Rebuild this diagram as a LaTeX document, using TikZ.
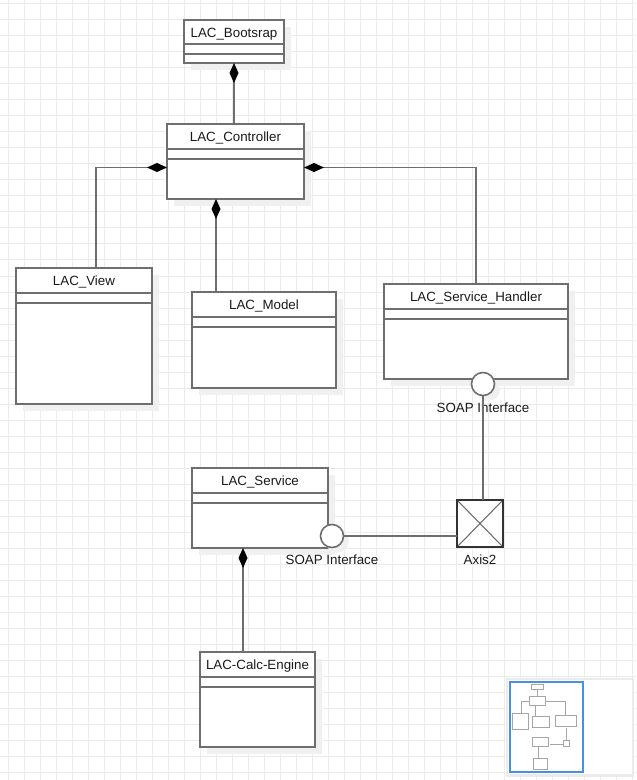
\documentclass[tikz,border=0pt]{standalone}
\usepackage{fontspec}
\setmainfont{Liberation Sans}
\usetikzlibrary{arrows.meta,calc,shadows,positioning}
\definecolor{gridgray}{HTML}{EBEBEB}
\definecolor{linegray}{HTML}{6E6E6E}
\definecolor{shadegray}{HTML}{F0F0F0}
\definecolor{textdark}{HTML}{1A1A1A}
\definecolor{miniblue}{HTML}{4A90E2}
\newlength{\px}
\setlength{\px}{0.75pt}
\tikzset{
  gridline/.style={draw=gridgray, line width=0.75pt},
  classbox/.style={draw=linegray, line width=1.4pt, fill=white, anchor=north west,
    inner sep=0pt, outer sep=0pt,
    drop shadow={shadow xshift=5pt, shadow yshift=-5pt, fill=shadegray, opacity=1}},
  classname/.style={text=textdark, font=\fontsize{10}{12}\selectfont, inner sep=0pt, anchor=base},
  sepline/.style={draw=linegray, line width=1.4pt},
  link/.style={draw=linegray, line width=1.4pt},
  comp/.style={link, {Diamond[length=15pt,width=6.75pt,color=black,fill=black]}-},
  iface/.style={circle, draw=linegray, line width=1.2pt, fill=white, minimum size=23\px,
    inner sep=0pt, outer sep=0pt,
    drop shadow={shadow xshift=4pt, shadow yshift=-4pt, fill=shadegray, opacity=1}},
  caption/.style={text=textdark, font=\fontsize{10}{12}\selectfont, inner sep=0pt, anchor=base},
  axisbox/.style={draw=black!80, line width=1.2pt, fill=white, minimum width=46\px,
    minimum height=47\px, inner sep=0pt, outer sep=0pt,
    path picture={\draw[linegray, line width=0.8pt]
      (path picture bounding box.north west) -- (path picture bounding box.south east)
      (path picture bounding box.south west) -- (path picture bounding box.north east);}},
  minibox/.style={draw=black!35, line width=0.4pt}
}
\begin{document}
\begin{tikzpicture}[x=0.75pt, y=-0.75pt]
\useasboundingbox (0,0) rectangle (636,780);
\fill[white] (0,0) rectangle (636,780);
%grid
\foreach \gx in {8,24,...,632} \draw[gridline] (\gx,0) -- (\gx,780);
\foreach \gy in {4,20,...,780} \draw[gridline] (0,\gy) -- (636,\gy);

%Bootsrap
\node[classbox, minimum width=100\px, minimum height=43\px] (boot) at (184,20) {};
\node[classname] (boot-name) at ($(boot.north)+(0,18)$) {LAC\_Bootsrap};
\draw[sepline] ($(boot.north west)+(0,24)$) -- ($(boot.north east)+(0,24)$);
\draw[sepline] ($(boot.north west)+(0,34)$) -- ($(boot.north east)+(0,34)$);
%Controller
\node[classbox, minimum width=137\px, minimum height=75\px] (ctrl) at (167,124) {};
\node[classname] (ctrl-name) at ($(ctrl.north)+(0,17.5)$) {LAC\_Controller};
\draw[sepline] ($(ctrl.north west)+(0,25)$) -- ($(ctrl.north east)+(0,25)$);
\draw[sepline] ($(ctrl.north west)+(0,35)$) -- ($(ctrl.north east)+(0,35)$);
%View
\node[classbox, minimum width=136\px, minimum height=136\px] (view) at (16,268) {};
\node[classname] (view-name) at ($(view.north)+(0,17.5)$) {LAC\_View};
\draw[sepline] ($(view.north west)+(0,25)$) -- ($(view.north east)+(0,25)$);
\draw[sepline] ($(view.north west)+(0,35)$) -- ($(view.north east)+(0,35)$);
%Model
\node[classbox, minimum width=144\px, minimum height=96\px] (model) at (192,292) {};
\node[classname] (model-name) at ($(model.north)+(0,17.5)$) {LAC\_Model};
\draw[sepline] ($(model.north west)+(0,25)$) -- ($(model.north east)+(0,25)$);
\draw[sepline] ($(model.north west)+(0,35)$) -- ($(model.north east)+(0,35)$);
%Service handler
\node[classbox, minimum width=184\px, minimum height=95\px] (handler) at (384,284) {};
\node[classname] (handler-name) at ($(handler.north)+(0,17.5)$) {LAC\_Service\_Handler};
\draw[sepline] ($(handler.north west)+(0,25)$) -- ($(handler.north east)+(0,25)$);
\draw[sepline] ($(handler.north west)+(0,35)$) -- ($(handler.north east)+(0,35)$);
%Service
\node[classbox, minimum width=136\px, minimum height=80\px] (svc) at (192,468) {};
\node[classname] (svc-name) at ($(svc.north)+(0,17.5)$) {LAC\_Service};
\draw[sepline] ($(svc.north west)+(0,25)$) -- ($(svc.north east)+(0,25)$);
\draw[sepline] ($(svc.north west)+(0,35)$) -- ($(svc.north east)+(0,35)$);
%Calc engine
\node[classbox, minimum width=115\px, minimum height=95\px] (calc) at (200,652) {};
\node[classname] (calc-name) at ($(calc.north)+(0,17.5)$) {LAC-Calc-Engine};
\draw[sepline] ($(calc.north west)+(0,25)$) -- ($(calc.north east)+(0,25)$);
\draw[sepline] ($(calc.north west)+(0,35)$) -- ($(calc.north east)+(0,35)$);

%Axis2 and the two interfaces
\node[axisbox] (axis) at (480,523.5) {};
\node[caption] (axis-name) at ($(axis.south)+(0,17)$) {Axis2};
\node[iface] (ifh) at (483,384) {};
\node[caption] (ifh-name) at ($(ifh.south)+(0,16.5)$) {SOAP Interface};
\node[iface] (ifs) at (332,536) {};
\node[caption] (ifs-name) at ($(ifs.south)+(0,16.5)$) {SOAP Interface};

%composition links
\coordinate (ctrl-foot) at ($(ctrl.south)+(-19.5,0)$);
\coordinate (svc-foot) at ($(svc.south)+(-17,0)$);
\draw[comp] (boot.south) -- (boot.south |- ctrl.north);
\draw[comp] ($(ctrl.west)+(0,6)$) -| ($(view.north west)+(80,0)$);
\draw[comp] ($(ctrl.east)+(0,6)$) -| (handler.north);
\draw[comp] (ctrl-foot) -- (ctrl-foot |- model.north);
\draw[comp] (svc-foot) -- (svc-foot |- calc.north);
%interface links
\draw[link] (ifh.south) -- (ifh.south |- axis.north);
\draw[link] (ifs.east) -- (ifs.east -| axis.west);

%outline view
\fill[black!8] (506,678) rectangle (634,777);
\fill[white] (508,680) rectangle (632,774);
\begin{scope}[shift={(510,682)}, scale=0.117]
\foreach \bx/\by/\bw/\bh in {184/20/100/43, 167/124/137/75, 16/268/136/136, 192/292/144/96,
    384/284/184/95, 192/468/136/80, 200/652/115/95, 457/500/46/47}
  \draw[minibox] (\bx,\by) rectangle ++(\bw,\bh);
\draw[minibox] (232,63) -- (232,124) (167,167) -| (96,268) (304,167) -| (476,284)
  (216,199) -- (216,292) (483,395) -- (483,500) (343,535) -- (457,535) (243,548) -- (243,652);
\end{scope}
\draw[miniblue, line width=1.2pt] (510,682) rectangle (583,772);
\end{tikzpicture}
\end{document}
